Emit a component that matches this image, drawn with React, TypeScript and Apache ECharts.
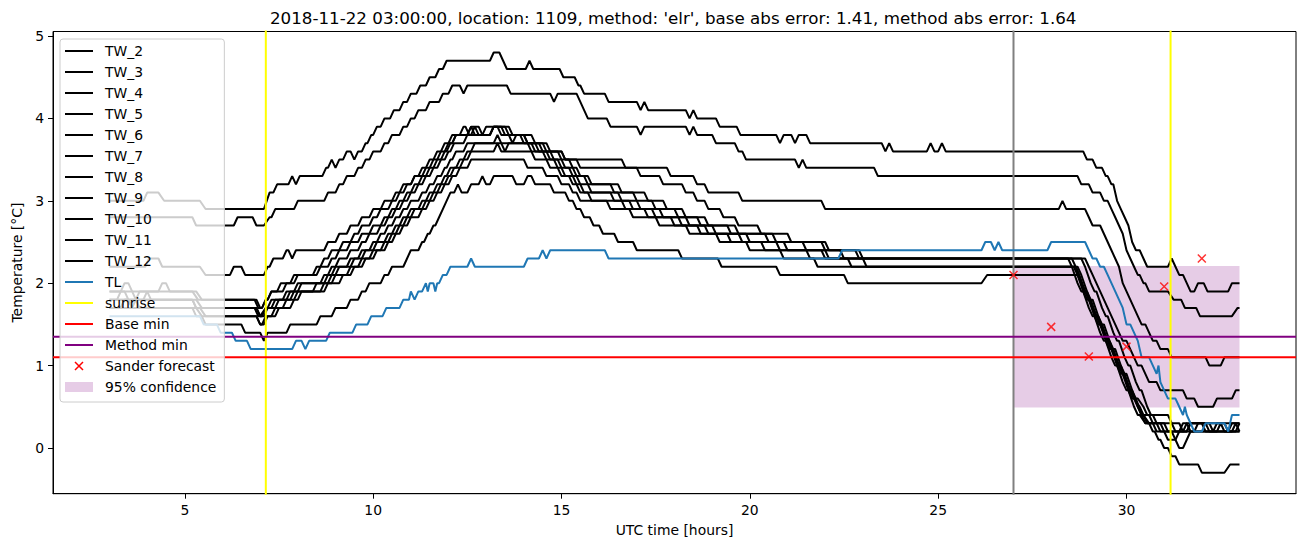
import React, { useEffect, useRef } from "react";
import * as echarts from "echarts";

// ---- axes ----
const X_MIN = 1.5;
const X_MAX = 34.5;
const Y_MIN = -0.555;
const Y_MAX = 5.055;
const X_TICKS = [5, 10, 15, 20, 25, 30];
const Y_TICKS = [0, 1, 2, 3, 4, 5];

const TITLE = "2018-11-22 03:00:00, location: 1109, method: 'elr', base abs error: 1.41, method abs error: 1.64";

// ---- TW series: plateaus [startHour, endHour, value] ----
const TW_2 = [[3.0,3.9,3.0],[4.0,4.3,3.1],[4.45,5.4,3.0],[5.55,7.1,2.9],[7.25,7.35,3.1],[7.45,7.75,3.2],[7.85,7.85,3.3],[7.95,7.95,3.2],[8.05,8.65,3.3],[8.75,8.8,3.4],[8.9,8.9,3.5],[9.0,9.0,3.4],[9.1,9.2,3.5],[9.3,9.4,3.6],[9.5,9.5,3.5],[9.6,9.7,3.6],[9.8,9.85,3.7],[9.95,10.0,3.8],[10.1,10.2,3.9],[10.3,10.45,4.0],[10.55,10.7,4.1],[10.8,10.9,4.2],[11.0,11.15,4.3],[11.25,11.4,4.4],[11.5,11.65,4.5],[11.75,11.85,4.6],[11.95,13.1,4.7],[13.2,13.35,4.8],[13.45,13.45,4.7],[13.55,14.05,4.6],[14.15,14.15,4.7],[14.25,14.95,4.6],[15.05,15.35,4.5],[15.45,15.5,4.4],[15.6,16.15,4.3],[16.25,17.0,4.2],[17.1,17.1,4.1],[17.2,17.2,4.2],[17.3,18.3,4.1],[18.4,18.4,4.0],[18.5,18.5,4.1],[18.6,19.1,4.0],[19.2,19.65,3.9],[19.75,20.7,3.8],[20.8,20.8,3.7],[20.9,21.1,3.8],[21.2,21.2,3.7],[21.3,21.5,3.8],[21.6,23.5,3.7],[23.6,23.6,3.6],[23.7,23.7,3.7],[23.8,24.7,3.6],[24.8,24.8,3.7],[24.9,25.0,3.6],[25.1,25.1,3.7],[25.2,28.85,3.6],[28.95,29.1,3.5],[29.2,29.35,3.4],[29.45,29.5,3.3],[29.6,29.65,3.2],[29.75,29.75,3.0],[29.85,29.85,2.9],[29.95,29.95,2.8],[30.05,30.05,2.7],[30.15,30.15,2.5],[30.25,30.35,2.4],[30.45,30.45,2.3],[30.55,31.1,2.2],[31.2,31.2,2.3],[31.3,31.3,2.2],[31.4,31.5,2.1],[31.6,31.6,2.0],[31.7,31.8,1.9],[31.9,32.05,2.0],[32.15,32.7,1.9],[32.8,33.0,2.0]];
const TW_3 = [[3.0,5.2,2.8],[5.3,6.3,2.7],[6.4,6.8,2.8],[6.9,7.1,2.7],[7.25,7.3,2.8],[7.4,7.9,2.9],[8.0,8.7,3.0],[8.8,9.0,3.1],[9.1,9.2,3.2],[9.3,9.5,3.3],[9.6,9.7,3.4],[9.8,9.9,3.5],[10.0,10.2,3.6],[10.3,10.4,3.7],[10.5,10.7,3.8],[10.8,10.9,3.9],[11.0,11.1,4.0],[11.2,11.4,4.1],[11.5,11.75,4.2],[11.85,12.0,4.3],[12.1,12.3,4.4],[12.4,12.4,4.3],[12.5,13.55,4.4],[13.65,14.7,4.3],[14.8,14.8,4.2],[14.9,15.4,4.3],[15.5,15.5,4.2],[15.6,15.6,4.1],[15.7,16.2,4.0],[16.3,17.0,3.9],[17.1,17.1,3.8],[17.2,18.3,3.9],[18.4,18.4,3.8],[18.5,18.5,3.9],[18.6,19.0,3.8],[19.1,19.6,3.7],[19.7,19.8,3.6],[19.9,21.2,3.5],[21.3,21.3,3.4],[21.4,21.4,3.5],[21.5,23.3,3.4],[23.4,28.7,3.3],[28.8,29.0,3.2],[29.1,29.3,3.1],[29.4,29.5,3.0],[29.6,29.6,2.9],[29.7,29.7,2.8],[29.8,29.8,2.7],[29.9,29.9,2.6],[30.0,30.0,2.4],[30.1,30.1,2.3],[30.2,30.2,2.2],[30.3,30.35,2.1],[30.45,30.5,2.0],[30.6,31.1,1.9],[31.25,31.45,1.8],[31.55,31.85,1.7],[31.95,32.8,1.6],[32.95,33.0,1.7]];
const TW_4 = [[3.0,3.95,2.2],[4.05,4.3,2.3],[4.4,5.4,2.2],[5.55,6.2,2.1],[6.3,6.5,2.2],[6.6,7.1,2.1],[7.2,7.25,2.2],[7.35,7.6,2.3],[7.7,7.75,2.4],[7.85,7.85,2.3],[7.95,8.7,2.4],[8.8,9.0,2.5],[9.1,9.3,2.6],[9.4,9.6,2.7],[9.7,9.9,2.8],[10.0,10.2,2.9],[10.3,10.5,3.0],[10.6,10.7,3.1],[10.8,11.0,3.2],[11.1,11.3,3.3],[11.4,11.5,3.4],[11.6,11.7,3.5],[11.8,11.9,3.6],[12.0,12.1,3.7],[12.2,12.5,3.8],[12.6,12.6,3.9],[12.7,13.1,3.8],[13.2,13.5,3.9],[13.6,14.0,3.8],[14.1,14.5,3.7],[14.6,15.0,3.6],[15.1,15.4,3.5],[15.5,17.8,3.4],[17.9,18.5,3.3],[18.6,18.8,3.2],[18.9,19.7,3.1],[19.8,21.9,3.0],[22.0,28.2,2.9],[28.3,28.3,3.0],[28.4,28.9,2.9],[29.0,29.0,2.8],[29.1,29.3,2.7],[29.4,29.4,2.6],[29.5,29.5,2.5],[29.6,29.6,2.4],[29.7,29.7,2.3],[29.8,29.8,2.2],[29.9,29.9,2.0],[30.0,30.0,1.9],[30.1,30.1,1.8],[30.2,30.2,1.7],[30.3,30.3,1.6],[30.4,30.5,1.5],[30.6,30.6,1.4],[30.7,30.8,1.3],[30.9,31.1,1.2],[31.2,32.1,1.1],[32.2,32.5,1.0],[32.6,33.0,1.1]];
const TW_5 = [[3.0,3.3,1.9],[3.4,3.5,2.0],[3.6,4.3,1.9],[4.4,4.5,2.0],[4.6,5.2,1.9],[5.35,6.9,1.8],[7.0,7.05,1.7],[7.15,7.2,1.8],[7.3,7.45,1.9],[7.55,7.8,2.0],[7.9,8.4,2.1],[8.5,8.6,2.2],[8.7,8.8,2.3],[8.9,9.1,2.4],[9.2,9.4,2.5],[9.5,9.6,2.6],[9.7,9.9,2.7],[10.0,10.1,2.8],[10.2,10.4,2.9],[10.5,10.6,3.0],[10.7,10.8,3.1],[10.9,11.0,3.2],[11.1,11.2,3.3],[11.3,11.4,3.4],[11.5,11.6,3.5],[11.7,11.8,3.6],[11.9,12.0,3.7],[12.1,12.3,3.8],[12.4,12.45,3.9],[12.55,12.6,3.8],[12.7,12.7,3.9],[12.8,12.9,3.8],[13.0,13.4,3.9],[13.5,13.6,3.8],[13.7,13.7,3.7],[13.8,14.0,3.8],[14.1,14.4,3.7],[14.5,15.0,3.6],[15.1,16.6,3.5],[16.7,17.0,3.4],[17.1,17.6,3.3],[17.7,18.2,3.2],[18.3,18.5,3.1],[18.6,18.8,3.0],[18.9,19.2,2.9],[19.3,19.6,2.8],[19.7,20.2,2.7],[20.3,21.0,2.6],[21.1,22.0,2.5],[22.1,22.8,2.4],[22.9,28.9,2.3],[29.0,29.0,2.2],[29.1,29.1,2.1],[29.2,29.2,2.0],[29.3,29.3,1.9],[29.4,29.4,1.8],[29.5,29.5,1.7],[29.6,29.6,1.6],[29.7,29.7,1.5],[29.8,29.8,1.4],[29.9,30.0,1.3],[30.1,30.1,1.2],[30.2,30.2,1.1],[30.3,30.4,1.0],[30.5,30.5,0.9],[30.6,30.8,0.8],[30.9,31.5,0.7],[31.6,31.8,0.6],[31.9,32.3,0.5],[32.4,32.8,0.6],[32.9,33.0,0.7]];
const TW_6 = [[3.0,3.6,1.9],[3.7,3.7,1.8],[3.8,5.3,1.9],[5.45,6.85,1.8],[6.95,7.05,1.7],[7.15,7.2,1.8],[7.3,7.6,1.9],[7.7,7.9,2.0],[8.0,8.5,2.1],[8.6,8.8,2.2],[8.9,9.0,2.3],[9.1,9.3,2.4],[9.4,9.6,2.5],[9.7,9.9,2.6],[10.0,10.2,2.7],[10.3,10.4,2.8],[10.5,10.6,2.9],[10.7,10.8,3.0],[10.9,11.0,3.1],[11.1,11.2,3.2],[11.3,11.4,3.3],[11.5,11.6,3.4],[11.7,11.8,3.5],[11.9,11.95,3.6],[12.05,12.1,3.7],[12.2,12.5,3.8],[12.6,12.8,3.9],[12.9,13.1,3.8],[13.2,13.6,3.9],[13.7,14.2,3.8],[14.3,14.6,3.7],[14.7,14.9,3.6],[15.0,15.2,3.5],[15.3,15.4,3.4],[15.5,15.7,3.3],[15.8,16.5,3.2],[16.6,17.2,3.1],[17.3,17.7,3.0],[17.8,18.2,2.9],[18.3,18.8,2.8],[18.9,19.6,2.7],[19.7,20.6,2.6],[20.7,21.9,2.5],[22.0,22.4,2.4],[22.5,28.45,2.3],[28.55,28.55,2.2],[28.7,28.7,2.0],[28.8,28.85,1.9],[29.0,29.0,1.7],[29.1,29.15,1.6],[29.3,29.3,1.4],[29.4,29.45,1.3],[29.6,29.6,1.1],[29.7,29.75,1.0],[29.9,29.9,0.8],[30.0,30.05,0.7],[30.2,30.2,0.5],[30.3,30.35,0.4],[30.5,30.8,0.3],[30.9,31.0,0.2],[31.1,31.3,0.1],[31.4,31.6,0.2],[31.7,32.6,0.3],[32.7,32.7,0.2],[32.8,33.0,0.3]];
const TW_7 = [[3.0,3.2,1.8],[3.3,3.4,1.9],[3.5,5.2,1.8],[5.3,6.9,1.7],[7.0,7.05,1.6],[7.15,7.2,1.7],[7.3,7.6,1.8],[7.7,7.9,1.9],[8.0,8.6,2.0],[8.7,8.8,2.1],[8.9,9.0,2.2],[9.1,9.3,2.3],[9.4,9.6,2.4],[9.7,9.8,2.5],[9.9,10.1,2.6],[10.2,10.3,2.7],[10.4,10.5,2.8],[10.6,10.7,2.9],[10.8,10.9,3.0],[11.0,11.1,3.1],[11.2,11.3,3.2],[11.4,11.5,3.3],[11.6,11.7,3.4],[11.8,11.9,3.5],[12.0,12.05,3.6],[12.15,12.4,3.7],[12.5,13.1,3.8],[13.2,13.3,3.9],[13.4,13.9,3.8],[14.0,14.3,3.7],[14.4,14.7,3.6],[14.8,15.0,3.5],[15.1,15.3,3.4],[15.4,15.6,3.3],[15.7,16.3,3.2],[16.4,16.9,3.1],[17.0,17.4,3.0],[17.5,18.0,2.9],[18.1,18.6,2.8],[18.7,19.4,2.7],[19.5,20.4,2.6],[20.5,21.4,2.5],[21.5,22.9,2.4],[23.0,28.55,2.3],[28.65,28.65,2.2],[28.8,28.8,2.0],[28.9,28.95,1.9],[29.1,29.1,1.7],[29.2,29.25,1.6],[29.4,29.4,1.4],[29.5,29.55,1.3],[29.7,29.7,1.1],[29.8,29.85,1.0],[30.0,30.0,0.8],[30.1,30.15,0.7],[30.3,30.3,0.5],[30.4,30.45,0.4],[30.6,30.7,0.3],[30.8,31.2,0.2],[31.3,31.3,0.1],[31.4,31.5,0.0],[31.6,31.6,0.1],[31.7,32.4,0.2],[32.5,32.5,0.3],[32.6,33.0,0.2]];
const TW_8 = [[3.0,5.2,1.8],[5.3,6.85,1.7],[6.95,7.0,1.6],[7.15,7.3,1.7],[7.4,7.7,1.8],[7.8,8.0,1.9],[8.1,8.7,2.0],[8.8,8.9,2.1],[9.0,9.3,2.2],[9.4,9.6,2.3],[9.7,9.9,2.4],[10.0,10.1,2.5],[10.2,10.3,2.6],[10.4,10.5,2.7],[10.6,10.7,2.8],[10.8,10.9,2.9],[11.0,11.2,3.0],[11.3,11.4,3.1],[11.5,11.6,3.2],[11.7,11.8,3.3],[11.9,11.95,3.4],[12.05,12.1,3.5],[12.2,12.4,3.6],[12.5,13.2,3.7],[13.3,13.3,3.8],[13.4,14.1,3.7],[14.2,14.6,3.6],[14.7,14.9,3.5],[15.0,15.2,3.4],[15.3,15.4,3.3],[15.5,15.7,3.2],[15.8,16.5,3.1],[16.6,17.0,3.0],[17.1,17.6,2.9],[17.7,18.3,2.8],[18.4,19.0,2.7],[19.1,19.9,2.6],[20.0,20.9,2.5],[21.0,22.0,2.4],[22.1,23.0,2.3],[23.1,28.6,2.2],[28.7,28.7,2.1],[28.85,28.85,1.9],[28.95,29.0,1.8],[29.15,29.15,1.6],[29.25,29.3,1.5],[29.45,29.45,1.3],[29.55,29.6,1.2],[29.75,29.75,1.0],[29.85,29.9,0.9],[30.05,30.05,0.7],[30.15,30.2,0.6],[30.35,30.35,0.5],[30.45,30.6,0.4],[30.7,31.2,0.3],[31.3,31.6,0.2],[31.7,32.2,0.3],[32.3,32.3,0.2],[32.4,33.0,0.3]];
const TW_9 = [[3.0,3.9,1.8],[4.0,4.0,1.9],[4.1,5.3,1.8],[5.45,6.9,1.7],[7.0,7.1,1.6],[7.2,7.4,1.7],[7.5,7.8,1.8],[7.9,8.4,1.9],[8.5,8.8,2.0],[8.9,9.0,2.1],[9.1,9.4,2.2],[9.5,9.7,2.3],[9.8,10.0,2.4],[10.1,10.3,2.5],[10.4,10.5,2.6],[10.6,10.7,2.7],[10.8,10.9,2.8],[11.0,11.2,2.9],[11.3,11.4,3.0],[11.5,11.6,3.1],[11.7,11.8,3.2],[11.9,11.95,3.3],[12.05,12.2,3.4],[12.3,12.4,3.5],[12.5,12.6,3.6],[12.7,13.4,3.7],[13.5,13.5,3.6],[13.6,14.2,3.7],[14.3,14.5,3.6],[14.6,14.8,3.5],[14.9,15.0,3.4],[15.1,15.3,3.3],[15.4,15.5,3.2],[15.6,16.3,3.1],[16.4,16.8,3.0],[16.9,17.4,2.9],[17.5,18.1,2.8],[18.2,18.8,2.7],[18.9,19.7,2.6],[19.8,20.7,2.5],[20.8,21.9,2.4],[22.0,22.6,2.3],[22.7,28.7,2.2],[28.8,28.8,2.1],[28.95,28.95,1.9],[29.05,29.1,1.8],[29.25,29.25,1.6],[29.35,29.4,1.5],[29.55,29.55,1.3],[29.65,29.7,1.2],[29.85,29.85,1.0],[29.95,30.0,0.9],[30.15,30.15,0.7],[30.25,30.3,0.6],[30.45,30.45,0.5],[30.55,30.7,0.4],[30.8,31.0,0.3],[31.1,31.4,0.2],[31.5,31.6,0.3],[31.7,32.8,0.2],[32.9,32.9,0.3],[33.0,33.0,0.2]];
const TW_10 = [[3.0,3.3,1.7],[3.4,3.5,1.8],[3.6,5.3,1.7],[5.45,6.9,1.6],[7.0,7.05,1.5],[7.15,7.3,1.6],[7.4,7.6,1.7],[7.7,7.9,1.8],[8.0,8.6,1.9],[8.7,8.9,2.0],[9.0,9.3,2.1],[9.4,9.6,2.2],[9.7,9.9,2.3],[10.0,10.2,2.4],[10.3,10.4,2.5],[10.5,10.6,2.6],[10.7,10.8,2.7],[10.9,11.0,2.8],[11.1,11.3,2.9],[11.4,11.5,3.0],[11.6,11.7,3.1],[11.8,11.9,3.2],[12.0,12.05,3.3],[12.15,12.3,3.4],[12.4,12.5,3.5],[12.6,13.2,3.6],[13.3,13.3,3.7],[13.4,14.2,3.6],[14.3,14.6,3.5],[14.7,14.9,3.4],[15.0,15.2,3.3],[15.3,15.4,3.2],[15.5,15.7,3.1],[15.8,16.6,3.0],[16.7,17.2,2.9],[17.3,17.9,2.8],[18.0,18.6,2.7],[18.7,19.4,2.6],[19.5,20.3,2.5],[20.4,21.5,2.4],[21.6,28.8,2.3],[28.9,28.9,2.2],[29.05,29.05,2.0],[29.15,29.2,1.9],[29.35,29.35,1.7],[29.45,29.5,1.6],[29.65,29.65,1.4],[29.75,29.8,1.3],[29.95,29.95,1.1],[30.05,30.1,1.0],[30.25,30.25,0.8],[30.35,30.4,0.7],[30.55,30.55,0.5],[30.65,31.1,0.4],[31.2,31.4,0.3],[31.5,31.8,0.2],[31.9,32.1,0.3],[32.2,32.9,0.2],[33.0,33.0,0.3]];
const TW_11 = [[3.0,3.6,1.7],[3.7,3.7,1.8],[3.8,5.4,1.7],[5.55,6.9,1.6],[7.0,7.1,1.5],[7.2,7.4,1.6],[7.5,7.8,1.7],[7.9,8.0,1.8],[8.1,8.7,1.9],[8.8,9.1,2.0],[9.2,9.4,2.1],[9.5,9.7,2.2],[9.8,10.0,2.3],[10.1,10.3,2.4],[10.4,10.5,2.5],[10.6,10.7,2.6],[10.8,10.9,2.7],[11.0,11.2,2.8],[11.3,11.4,2.9],[11.5,11.6,3.0],[11.7,11.8,3.1],[11.9,12.0,3.2],[12.1,12.2,3.3],[12.3,12.5,3.4],[12.6,14.0,3.5],[14.1,14.5,3.4],[14.6,14.9,3.3],[15.0,15.2,3.2],[15.3,15.4,3.1],[15.5,16.2,3.0],[16.3,16.8,2.9],[16.9,17.5,2.8],[17.6,18.3,2.7],[18.4,19.1,2.6],[19.2,19.9,2.5],[20.0,20.8,2.4],[20.9,21.7,2.3],[21.8,28.65,2.2],[28.75,28.75,2.1],[28.9,28.9,1.9],[29.0,29.05,1.8],[29.2,29.2,1.6],[29.3,29.35,1.5],[29.5,29.5,1.3],[29.6,29.65,1.2],[29.8,29.8,1.0],[29.9,29.95,0.9],[30.1,30.1,0.7],[30.2,30.25,0.6],[30.4,30.4,0.4],[30.5,30.9,0.3],[31.0,31.5,0.2],[31.6,32.0,0.3],[32.1,33.0,0.2]];
const TW_12 = [[3.0,3.3,1.7],[3.4,3.5,1.8],[3.6,5.2,1.7],[5.3,5.45,1.6],[5.55,6.5,1.5],[6.6,7.0,1.4],[7.1,7.1,1.3],[7.2,7.7,1.4],[7.8,8.5,1.5],[8.6,8.9,1.6],[9.0,9.3,1.7],[9.4,9.6,1.8],[9.7,9.8,1.9],[9.9,10.2,2.0],[10.3,10.4,2.1],[10.5,10.8,2.2],[10.9,10.9,2.3],[11.0,11.2,2.4],[11.3,11.35,2.5],[11.45,11.5,2.6],[11.6,11.65,2.7],[11.75,11.75,2.8],[11.85,11.85,2.9],[11.95,11.95,3.0],[12.05,12.15,3.1],[12.25,12.25,3.2],[12.35,12.5,3.1],[12.6,12.8,3.2],[12.9,12.9,3.3],[13.0,13.1,3.2],[13.2,13.7,3.3],[13.8,14.0,3.2],[14.1,14.2,3.3],[14.3,14.7,3.2],[14.8,15.1,3.1],[15.2,15.3,3.0],[15.4,15.5,2.9],[15.6,15.75,2.8],[15.85,16.0,2.7],[16.1,16.4,2.6],[16.5,16.9,2.5],[17.0,18.1,2.4],[18.2,19.15,2.3],[19.25,20.7,2.2],[20.8,22.5,2.1],[22.6,26.15,2.0],[26.3,28.7,2.1],[28.8,28.8,2.0],[28.9,28.9,1.9],[29.0,29.0,1.8],[29.1,29.1,1.7],[29.2,29.2,1.6],[29.3,29.3,1.5],[29.4,29.4,1.4],[29.5,29.5,1.3],[29.6,29.6,1.2],[29.7,29.7,1.1],[29.8,29.8,1.0],[29.9,29.9,0.9],[30.0,30.0,0.8],[30.1,30.1,0.7],[30.2,30.2,0.6],[30.3,30.3,0.5],[30.4,30.45,0.4],[30.55,30.6,0.3],[30.7,30.75,0.2],[30.85,30.9,0.1],[31.0,31.1,0.0],[31.2,31.3,-0.1],[31.4,31.9,-0.2],[32.0,32.6,-0.3],[32.75,33.0,-0.2]];
const TL = [[3.0,5.4,1.6],[5.5,5.85,1.5],[5.95,6.25,1.4],[6.35,6.65,1.3],[6.75,7.85,1.2],[7.95,8.1,1.3],[8.2,8.2,1.2],[8.3,8.75,1.3],[8.85,9.45,1.4],[9.55,9.85,1.5],[9.95,10.25,1.6],[10.35,10.7,1.7],[10.8,10.95,1.8],[11.0,11.0,1.9],[11.1,11.1,1.8],[11.2,11.3,1.9],[11.4,11.4,2.0],[11.45,11.45,1.9],[11.5,11.6,2.0],[11.65,11.65,1.9],[11.7,11.75,2.0],[11.85,11.95,2.1],[12.05,12.5,2.2],[12.6,12.6,2.3],[12.7,14.0,2.2],[14.1,14.4,2.3],[14.5,14.5,2.4],[14.6,14.6,2.3],[14.7,16.15,2.4],[16.25,22.35,2.3],[22.45,26.15,2.4],[26.25,26.4,2.5],[26.5,26.5,2.4],[26.6,26.6,2.5],[26.7,27.9,2.4],[28.0,28.9,2.5],[29.0,29.0,2.4],[29.1,29.2,2.3],[29.3,29.4,2.2],[29.5,29.5,2.1],[29.6,29.6,2.0],[29.7,29.7,1.9],[29.8,29.8,1.8],[29.9,29.9,1.7],[30.0,30.1,1.5],[30.2,30.2,1.4],[30.3,30.3,1.3],[30.4,30.6,1.1],[30.7,30.7,1.0],[30.8,30.8,0.9],[30.85,30.85,1.0],[30.9,30.9,0.8],[31.0,31.0,0.7],[31.1,31.3,0.6],[31.4,31.4,0.5],[31.5,31.5,0.4],[31.55,31.55,0.5],[31.6,31.6,0.4],[31.7,31.7,0.3],[31.8,32.0,0.2],[32.1,32.6,0.3],[32.7,32.7,0.2],[32.8,33.0,0.4]];

const TW_NAMES = ["TW_2","TW_3","TW_4","TW_5","TW_6","TW_7","TW_8","TW_9","TW_10","TW_11","TW_12"];
const TW_DATA = [TW_2, TW_3, TW_4, TW_5, TW_6, TW_7, TW_8, TW_9, TW_10, TW_11, TW_12];

const SUNRISE = [7.15, 31.17];
const FORECAST_TIME = 27.0;
const BASE_MIN = 1.1;
const METHOD_MIN = 1.35;
const FORECAST_X = [27, 28, 29, 30, 31, 32];
const FORECAST_Y = [2.1, 1.47, 1.11, 1.23, 1.96, 2.3];
const CONF_X = [27.0, 33.0];
const CONF_Y = [0.49, 2.21];

const FONT = "'DejaVu Sans', sans-serif";
const X_MARK = "path://M0,0 M4,4 L12,12 M12,4 L4,12 M16,16";
const X_MARK_LEGEND = "path://M0,0 M1,1 L9,9 M9,1 L1,9 M10,10";

function toPoints(plateaus: number[][]) {
  const out: number[][] = [];
  for (const [a, b, v] of plateaus) {
    out.push([a, v]);
    if (b !== a) out.push([b, v]);
  }
  return out;
}

function lineSeries(name: string, data: any[], color: string, z = 2) {
  return {
    type: "line",
    name,
    data,
    symbol: "none",
    showSymbol: false,
    lineStyle: { color, width: 2 },
    itemStyle: { color },
    z,
    animation: false,
    silent: true,
  };
}

export default function App() {
  const ref = useRef<HTMLDivElement>(null);
  useEffect(() => {
    if (!ref.current) return;
    const chart = echarts.init(ref.current, undefined, { renderer: "svg" });
    const series: any[] = [];
    series.push({
      type: "custom",
      name: "95% confidence",
      data: [[CONF_X[0], CONF_X[1], CONF_Y[0], CONF_Y[1]]],
      encode: { x: [0, 1], y: [2, 3] },
      itemStyle: { color: "rgba(128,0,128,0.2)" },
      z: 1,
      silent: true,
      renderItem: (params: any, api: any) => {
        const p0 = api.coord([api.value(0), api.value(3)]);
        const p1 = api.coord([api.value(1), api.value(2)]);
        return {
          type: "rect",
          shape: { x: p0[0], y: p0[1], width: p1[0] - p0[0], height: p1[1] - p0[1] },
          style: { fill: "rgba(128,0,128,0.2)" },
        };
      },
    });
    TW_NAMES.forEach((n, i) => series.push(lineSeries(n, toPoints(TW_DATA[i]), "#000000")));
    series.push(lineSeries("", [[FORECAST_TIME, Y_MIN - 1], [FORECAST_TIME, Y_MAX + 1]], "#808080"));
    series.push(lineSeries("TL", toPoints(TL), "#1f77b4"));
    SUNRISE.forEach((s) => series.push(lineSeries("sunrise", [[s, Y_MIN - 1], [s, Y_MAX + 1]], "#ffff00")));
    series.push(lineSeries("Base min", [[X_MIN, BASE_MIN], [X_MAX, BASE_MIN]], "#ff0000"));
    series.push(lineSeries("Method min", [[X_MIN, METHOD_MIN], [X_MAX, METHOD_MIN]], "#800080"));
    series.push({
      type: "scatter",
      name: "Sander forecast",
      data: FORECAST_X.map((x, i) => [x, FORECAST_Y[i]]),
      symbol: X_MARK,
      symbolSize: 16,
      itemStyle: { color: "rgba(0,0,0,0)", borderColor: "#ff0000", borderWidth: 1.5 },
      z: 3,
      silent: true,
    });

    const legendNames = [...TW_NAMES, "TL", "sunrise", "Base min", "Method min"];
    const legendData: any[] = legendNames.map((n) => ({ name: n }));
    legendData.push({
      name: "Sander forecast",
      icon: X_MARK_LEGEND,
      itemStyle: { color: "rgba(0,0,0,0)", borderColor: "#ff0000", borderWidth: 1.5, opacity: 1 },
    });
    legendData.push({
      name: "95% confidence",
      icon: "rect",
      itemStyle: { color: "rgba(128,0,128,0.2)", opacity: 1, borderWidth: 0 },
    });

    chart.setOption({
      animation: false,
      textStyle: { fontFamily: FONT },
      title: {
        text: TITLE,
        left: 270,
        top: 9,
        padding: 0,
        textStyle: { fontFamily: FONT, fontSize: 16.7, fontWeight: "normal", color: "#000" },
      },
      grid: {
        left: 53,
        top: 31.5,
        width: 1243,
        height: 462.2,
        show: true,
        borderColor: "#000",
        borderWidth: 1,
        backgroundColor: "transparent",
        containLabel: false,
      },
      legend: {
        data: legendData,
        orient: "vertical",
        left: 60,
        top: 39,
        padding: [5, 8, 8, 4],
        itemWidth: 28,
        itemHeight: 10,
        itemGap: 7.0,
        backgroundColor: "rgba(255,255,255,0.8)",
        borderColor: "#cccccc",
        borderWidth: 1,
        borderRadius: 3,
        selectedMode: false,
        itemStyle: { opacity: 0 },
        lineStyle: { width: 2 },
        textStyle: { fontFamily: FONT, fontSize: 13.9, color: "#000", padding: [0, 0, 0, 7] },
      },
      xAxis: {
        type: "value",
        min: X_MIN,
        max: X_MAX,
        name: "UTC time [hours]",
        nameLocation: "middle",
        nameGap: 29,
        nameTextStyle: { fontFamily: FONT, fontSize: 13.9, color: "#000" },
        axisLine: { show: true, onZero: false, lineStyle: { color: "#000", width: 1 } },
        axisTick: { show: true, customValues: X_TICKS, length: 5, lineStyle: { color: "#000" } },
        axisLabel: { customValues: X_TICKS, fontFamily: FONT, fontSize: 13.9, color: "#000", margin: 9 },
        splitLine: { show: false },
      },
      yAxis: {
        type: "value",
        min: Y_MIN,
        max: Y_MAX,
        name: "Temperature [°C]",
        nameLocation: "middle",
        nameGap: 28,
        nameTextStyle: { fontFamily: FONT, fontSize: 13.9, color: "#000" },
        axisLine: { show: true, onZero: false, lineStyle: { color: "#000", width: 1 } },
        axisTick: { show: true, customValues: Y_TICKS, length: 5, lineStyle: { color: "#000" } },
        axisLabel: { customValues: Y_TICKS, fontFamily: FONT, fontSize: 13.9, color: "#000", margin: 9 },
        splitLine: { show: false },
      },
      series,
    });
    return () => chart.dispose();
  }, []);
  return (
    <div
      ref={ref}
      style={{ position: "fixed", left: 0, top: 0, width: 1302, height: 547, background: "#fff" }}
    />
  );
}
